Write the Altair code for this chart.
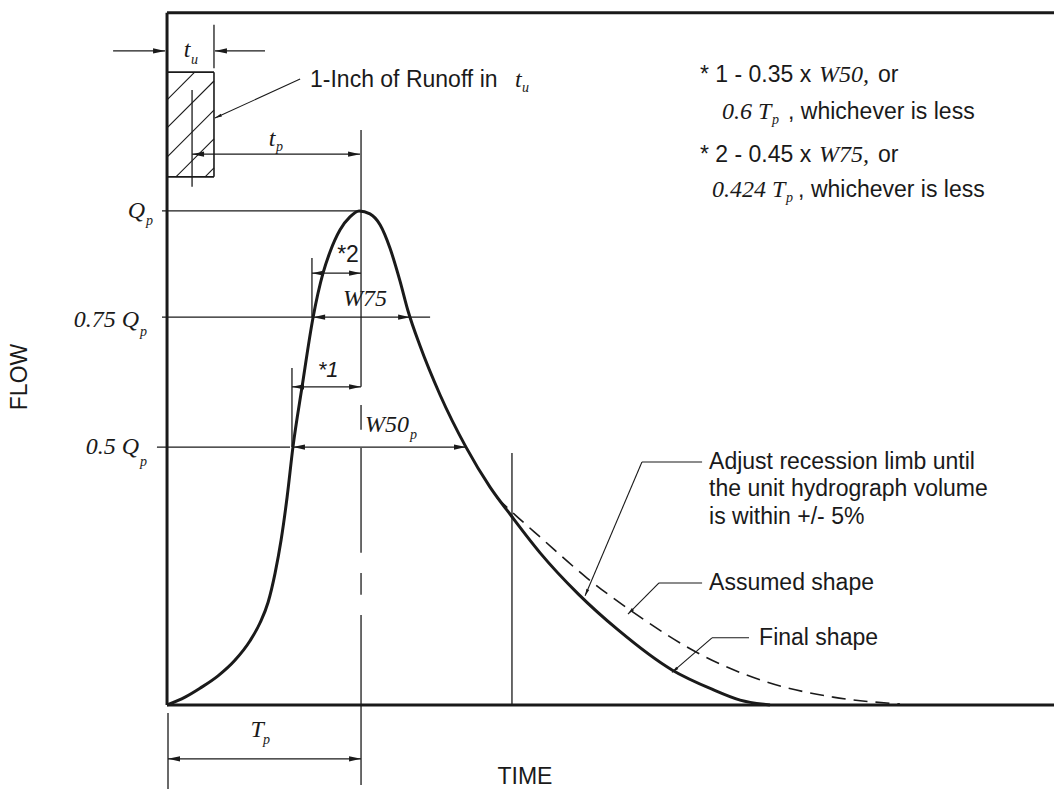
import math
import altair as alt
import pandas as pd

# ---- canvas / scale settings (time in units of Tp, flow in units of Qp) ----
W, H = 1054, 789
T_MIN, T_MAX = -0.861, 4.572
Q_MIN, Q_MAX = -0.170, 1.427
PX_T = W / (T_MAX - T_MIN)
PX_Q = H / (Q_MAX - Q_MIN)

# ---- hydrograph curves ----
final_t = [0.0, 0.093, 0.170, 0.263, 0.351, 0.428, 0.479, 0.521, 0.557, 0.588, 0.619, 0.649,
           0.696, 0.753, 0.804, 0.840, 0.892, 0.943, 0.990, 1.046, 1.098, 1.149, 1.201, 1.242,
           1.304, 1.407, 1.541, 1.665, 1.778, 1.923, 2.119, 2.325, 2.603, 2.809, 2.954, 3.108]
final_q = [0.0, 0.016, 0.034, 0.059, 0.091, 0.130, 0.166, 0.208, 0.267, 0.334, 0.421, 0.522,
           0.644, 0.785, 0.874, 0.917, 0.962, 0.988, 1.000, 0.994, 0.972, 0.925, 0.858, 0.798,
           0.727, 0.628, 0.522, 0.441, 0.381, 0.308, 0.225, 0.152, 0.071, 0.032, 0.010, 0.000]

assumed_t = [1.701, 1.794, 1.923, 2.165, 2.402, 2.747, 3.088, 3.433, 3.778]
assumed_q = [0.419, 0.385, 0.340, 0.257, 0.188, 0.103, 0.047, 0.016, 0.002]

# ---- frame (axes box) ----
FRAME_TOP = 1.401
frame_lines = [(0.0, 0.0, 0.0, FRAME_TOP), (0.0, FRAME_TOP, T_MAX, FRAME_TOP), (0.0, 0.0, T_MAX, 0.0)]

# ---- reference / dimension lines (t1, q1, t2, q2) ----
ref_lines = [
    (-0.026, 1.000, 1.000, 1.000),   # Qp level
    (-0.026, 0.785, 1.356, 0.785),   # 0.75 Qp level / W75
    (-0.052, 0.522, 0.634, 0.522),   # 0.5 Qp level
    (0.649, 0.522, 1.541, 0.522),    # W50 dimension
    (0.747, 0.874, 1.000, 0.874),    # *2 dimension
    (0.644, 0.644, 1.000, 0.644),    # *1 dimension
    (0.747, 0.785, 0.747, 0.905),    # *2 extension
    (0.644, 0.522, 0.644, 0.682),    # *1 extension
    (0.005, -0.109, 1.000, -0.109),  # Tp dimension
    (0.005, -0.016, 0.005, -0.170),  # Tp extension
    (-0.278, 1.324, -0.010, 1.324),  # tu left arrow
    (0.247, 1.324, 0.505, 1.324),    # tu right arrow
    (0.242, 1.377, 0.242, 1.289),    # tu extension
    (0.129, 1.115, 0.995, 1.115),    # tp dimension
    (0.129, 1.245, 0.129, 1.049),    # tp extension
    (1.778, 0.510, 1.778, 0.000),    # recession marker
]
# peak time line, broken (dash-dot) below the curve
peak_line_t = 1.0
peak_line_q = [(1.164, 0.644), (0.607, 0.557), (0.520, 0.308), (0.267, 0.223), (0.182, -0.162)]

# rainfall excess box
box_t = (0.0, 0.242)
box_q = (1.069, 1.281)
hatch_q0 = [1.225, 1.168, 1.109, 1.051, 0.992]

# leaders: polyline points, last point is arrow tip
leaders = [
    [(0.686, 1.267), (0.247, 1.188)],
    [(2.758, 0.492), (2.448, 0.492), (2.155, 0.221)],
    [(2.758, 0.247), (2.536, 0.247), (2.376, 0.184)],
    [(3.000, 0.136), (2.809, 0.136), (2.603, 0.066)],
]

# dimension arrow tips (t, q, direction deg)
arrow_tips = [
    (-0.010, 1.324, 0), (0.247, 1.324, 180),
    (0.129, 1.115, 180), (0.995, 1.115, 0),
    (0.747, 0.874, 180), (1.000, 0.874, 0),
    (0.753, 0.785, 180), (1.253, 0.785, 0),
    (0.644, 0.644, 180), (1.000, 0.644, 0),
    (0.649, 0.522, 180), (1.541, 0.522, 0),
    (0.005, -0.109, 180), (1.000, -0.109, 0),
]

# ---- texts ----
sans_left = [
    ("1-Inch of Runoff in", 0.737, 1.265),
    ("* 1 - 0.35 x", 2.747, 1.275),
    ("or", 3.665, 1.275),
    (", whichever is less", 3.201, 1.200),
    ("* 2 - 0.45 x", 2.747, 1.113),
    ("or", 3.665, 1.113),
    (", whichever is less", 3.253, 1.043),
    ("Adjust recession limb until", 2.794, 0.492),
    ("the unit hydrograph volume", 2.794, 0.437),
    ("is within +/- 5%", 2.794, 0.381),
    ("Assumed shape", 2.794, 0.247),
    ("Final shape", 3.052, 0.136),
]
sans_center = [("TIME", 1.845, -0.146), ("*2", 0.933, 0.911)]
sans_italic_center = [("*1", 0.830, 0.678)]
sans_rotated = [("FLOW", -0.758, 0.664)]
serif_left = [
    ("W50,", 3.361, 1.275), ("W75,", 3.361, 1.113),
    ("0.6 T", 2.861, 1.200), ("0.424 T", 2.809, 1.043),
    ("t", 1.794, 1.265), ("W50", 1.021, 0.567),
]
serif_right = [("Q", -0.113, 1.000), ("0.75 Q", -0.144, 0.779), ("0.5 Q", -0.144, 0.522)]
serif_center = [("W75", 1.021, 0.822), ("t", 0.103, 1.326), ("t", 0.541, 1.146), ("T", 0.464, -0.051)]
subscripts = [
    ("p", -0.108, 0.980), ("p", -0.139, 0.755), ("p", -0.139, 0.492),
    ("p", 3.119, 1.184), ("p", 3.191, 1.026), ("u", 1.830, 1.249),
    ("p", 1.253, 0.547), ("u", 0.124, 1.306), ("p", 0.562, 1.130), ("p", 0.495, -0.071),
]

# ---- build ----
XS = alt.Scale(domain=[T_MIN, T_MAX], range=[0, W], nice=False, zero=False)
YS = alt.Scale(domain=[Q_MIN, Q_MAX], range=[H, 0], nice=False, zero=False)
INK = "#1a1a1a"


def seg_df(segs):
    return pd.DataFrame(segs, columns=["t1", "q1", "t2", "q2"])


def rules(df, width, dash=None):
    kw = dict(strokeWidth=width, color=INK)
    if dash:
        kw["strokeDash"] = dash
    return alt.Chart(df).mark_rule(**kw).encode(
        x=alt.X("t1:Q", scale=XS, axis=None), y=alt.Y("q1:Q", scale=YS, axis=None),
        x2="t2:Q", y2="q2:Q")


# hatch segments clipped to box (45 degree on screen)
k = PX_T / PX_Q
hatch = []
for q0 in hatch_q0:
    ts = max(box_t[0], (box_q[0] - q0) / k)
    te = min(box_t[1], (box_q[1] - q0) / k)
    if ts < te:
        hatch.append((ts, q0 + k * ts, te, q0 + k * te))

box_lines = [
    (box_t[0], box_q[1], box_t[1], box_q[1]),
    (box_t[1], box_q[1], box_t[1], box_q[0]),
    (box_t[0], box_q[0], box_t[1], box_q[0]),
]

peak_segs = [(peak_line_t, a, peak_line_t, b) for a, b in peak_line_q]

leader_segs = []
leader_tips = []
for pts in leaders:
    for (a, b) in zip(pts[:-1], pts[1:]):
        leader_segs.append((a[0], a[1], b[0], b[1]))
    (t0, q0_), (t1, q1) = pts[-2], pts[-1]
    ang = math.degrees(math.atan2(-(q1 - q0_) * PX_Q, (t1 - t0) * PX_T)) % 360
    leader_tips.append((t1, q1, ang))

ARROW = "M0,0 L-1,-0.22 L-1,0.22 Z"


def tips_layer(tips, size):
    df = pd.DataFrame(tips, columns=["t", "q", "ang"])
    return alt.Chart(df).mark_point(shape=ARROW, filled=True, color=INK, opacity=1,
                                    strokeWidth=0).encode(
        x=alt.X("t:Q", scale=XS, axis=None), y=alt.Y("q:Q", scale=YS, axis=None),
        angle=alt.Angle("ang:Q", scale=None), size=alt.value(size))


def text_layer(rows, font, style, align, size, angle=0):
    df = pd.DataFrame(rows, columns=["label", "t", "q"])
    return alt.Chart(df).mark_text(font=font, fontStyle=style, align=align, baseline="middle",
                                   fontSize=size, angle=angle, color=INK).encode(
        x=alt.X("t:Q", scale=XS, axis=None), y=alt.Y("q:Q", scale=YS, axis=None),
        text="label:N")


final_df = pd.DataFrame({"t": final_t, "q": final_q})
assumed_df = pd.DataFrame({"t": assumed_t, "q": assumed_q})

SANS = "Liberation Sans"
SERIF = "Liberation Serif"

layers = [
    rules(seg_df(ref_lines), 1.3),
    rules(seg_df(peak_segs), 1.3),
    rules(seg_df(box_lines), 1.6),
    rules(seg_df(hatch), 1.1),
    rules(seg_df(leader_segs), 1.1),
    alt.Chart(assumed_df).mark_line(interpolate="monotone", strokeWidth=1.6, color=INK,
                                    strokeDash=[14, 8]).encode(
        x=alt.X("t:Q", scale=XS, axis=None), y=alt.Y("q:Q", scale=YS, axis=None)),
    alt.Chart(final_df).mark_line(interpolate="monotone", strokeWidth=3, color=INK).encode(
        x=alt.X("t:Q", scale=XS, axis=None), y=alt.Y("q:Q", scale=YS, axis=None)),
    rules(seg_df(frame_lines), 3),
    tips_layer(arrow_tips, 576),
    tips_layer(leader_tips, 196),
    text_layer(sans_left, SANS, "normal", "left", 23),
    text_layer(sans_center, SANS, "normal", "center", 23),
    text_layer(sans_italic_center, SANS, "italic", "center", 22),
    text_layer(sans_rotated, SANS, "normal", "center", 23, angle=270),
    text_layer(serif_left, SERIF, "italic", "left", 24),
    text_layer(serif_right, SERIF, "italic", "right", 24),
    text_layer(serif_center, SERIF, "italic", "center", 24),
    text_layer(subscripts, SERIF, "italic", "left", 14),
]

chart = alt.layer(*layers).properties(
    width=W, height=H, autosize=alt.AutoSizeParams(type="none"), padding=0,
    background="white",
).configure_view(stroke=None)

chart.save("out.html", embed_options={"renderer": "svg", "actions": False})
